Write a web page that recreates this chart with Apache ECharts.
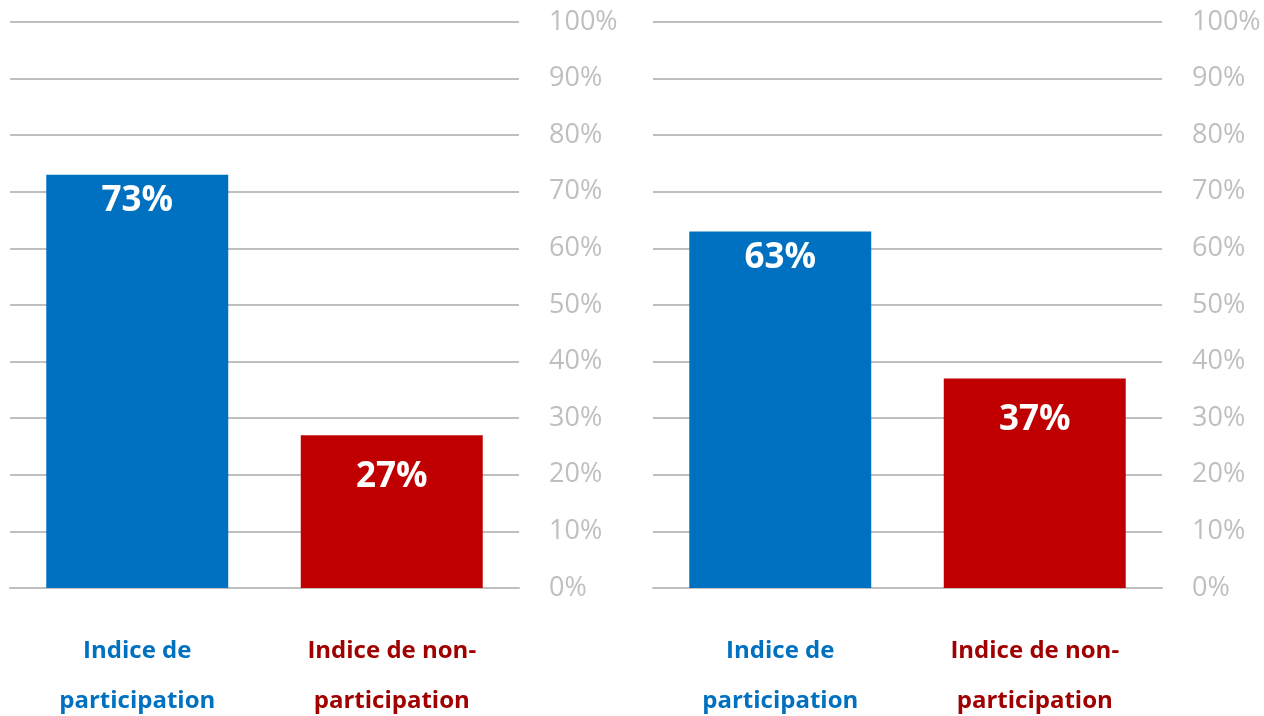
<!DOCTYPE html>
<html>
<head>
<meta charset="utf-8">
<title>Indice de participation</title>
<script src="https://cdn.jsdelivr.net/npm/echarts@6/dist/echarts.min.js"></script>
<style>
  html, body { margin: 0; padding: 0; background: #fff; }
  #chart { width: 1264px; height: 716px; }
</style>
</head>
<body>
<div id="chart"></div>
<script>
// données
var categories = ['Indice de\nparticipation', 'Indice de non-\nparticipation'];
var leftValues = [73, 27];
var rightValues = [63, 37];
var barColors = ['#0070C0', '#C00000'];
var labelColors = ['#0070C0', '#A00000'];
var yTicks = { min: 0, max: 100, step: 10 };

var chart = echarts.init(document.getElementById('chart'));

function makeData(values) {
  return values.map(function (v, i) {
    return {
      value: v,
      itemStyle: { color: barColors[i] },
      label: { distance: i === 0 ? 9 : 24 }
    };
  });
}

function xAxis(gridIndex) {
  return {
    type: 'category',
    gridIndex: gridIndex,
    data: categories,
    axisTick: { show: false },
    axisLine: { lineStyle: { color: '#bfbfbf', width: 2 } },
    axisLabel: {
      margin: 38,
      fontFamily: 'Open Sans',
      fontWeight: 'bold',
      fontSize: 24,
      lineHeight: 50,
      color: function (val, idx) { return labelColors[idx]; }
    }
  };
}

function yAxis(gridIndex) {
  return {
    type: 'value',
    gridIndex: gridIndex,
    position: 'right',
    min: yTicks.min,
    max: yTicks.max,
    interval: yTicks.step,
    axisLine: { show: false },
    axisTick: { show: false },
    splitLine: { lineStyle: { color: '#bfbfbf', width: 2 } },
    axisLabel: {
      margin: 30,
      formatter: '{value}%',
      fontFamily: 'Open Sans',
      fontSize: 27,
      color: '#bfbfbf'
    }
  };
}

function series(idx, values) {
  return {
    type: 'bar',
    xAxisIndex: idx,
    yAxisIndex: idx,
    barCategoryGap: '28.5%',
    data: makeData(values),
    label: {
      show: true,
      position: 'insideTop',
      formatter: '{c}%',
      fontFamily: 'Open Sans',
      fontWeight: 'bold',
      fontSize: 35,
      color: '#fff'
    }
  };
}

chart.setOption({
  animation: false,
  grid: [
    { left: 10, top: 22, width: 509, bottom: 128, outerBoundsMode: 'none' },
    { left: 653, top: 22, width: 509, bottom: 128, outerBoundsMode: 'none' }
  ],
  xAxis: [xAxis(0), xAxis(1)],
  yAxis: [yAxis(0), yAxis(1)],
  series: [series(0, leftValues), series(1, rightValues)]
});
</script>
</body>
</html>
